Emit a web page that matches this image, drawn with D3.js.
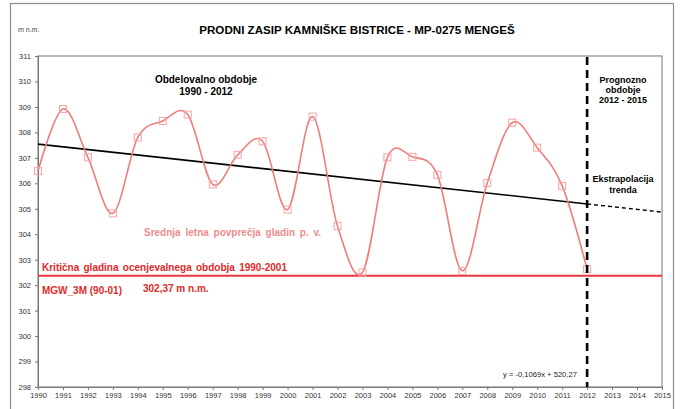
<!DOCTYPE html>
<meta charset="utf-8">
<head>
  <title>Prodni zasip Kamniške Bistrice</title>
  <style>
    body { margin: 0; background: #fff; }
    text { font-family: "Liberation Sans", Arial, sans-serif; }
  </style>
</head>
<body>
  <script src="https://d3js.org/d3.v7.min.js"></script>
  <div id="chart"></div>
  <script>
    // yearly averages of groundwater level (m n.m.)
    var years = [1990, 1991, 1992, 1993, 1994, 1995, 1996, 1997, 1998, 1999, 2000,
                 2001, 2002, 2003, 2004, 2005, 2006, 2007, 2008, 2009, 2010, 2011, 2012];
    var levels = [306.48, 308.92, 307.02, 304.82, 307.80, 308.45, 308.70, 305.96, 307.12, 307.65, 304.97,
                  308.62, 304.32, 302.50, 307.02, 307.04, 306.33, 302.56, 306.01, 308.38, 307.40, 305.90, 302.63];

    // trend line endpoints (fit period and extrapolation)
    var trendYears = [1990, 2012];
    var trendValues = [307.54, 305.19];
    var extraYears = [2012, 2015];
    var extraValues = [305.19, 304.87];

    var criticalLevel = 302.37;
    var forecastStart = 2012;

    var yTicks = [298, 299, 300, 301, 302, 303, 304, 305, 306, 307, 308, 309, 310, 311];
    var xTicks = d3.range(1990, 2016);

    var W = 684, H = 409;
    var margin = {top: 56, right: 22, bottom: 22, left: 38};
    var width = 662 - margin.left,
        height = 387 - margin.top;

    var svg = d3.select("#chart").append("svg")
      .attr("width", W)
      .attr("height", H);

    // outer chart frame
    svg.append("rect")
      .attr("x", 10.5).attr("y", 3.5)
      .attr("width", 663).attr("height", 420)
      .attr("fill", "none")
      .attr("stroke", "#8c8c8c")
      .attr("stroke-width", 1.2);

    var g = svg.append("g")
      .attr("transform", "translate(" + margin.left + "," + margin.top + ")");

    var x = d3.scaleLinear().domain([1990, 2015]).range([0, width]);
    var y = d3.scaleLinear().domain([298, 311]).range([height, 0]);

    // plot area border
    g.append("rect")
      .attr("x", 0).attr("y", 0)
      .attr("width", width).attr("height", height)
      .attr("fill", "none")
      .attr("stroke", "#777")
      .attr("stroke-width", 1);

    // axes
    var yAxis = g.append("g")
      .call(d3.axisLeft(y).tickValues(yTicks).tickSize(3).tickPadding(4).tickFormat(d3.format("d")));
    var xAxis = g.append("g")
      .attr("transform", "translate(0," + height + ")")
      .call(d3.axisBottom(x).tickValues(xTicks).tickSize(3).tickPadding(3).tickFormat(d3.format("d")));
    [xAxis, yAxis].forEach(function(a) {
      a.select(".domain").attr("stroke", "#777");
      a.selectAll(".tick line").attr("stroke", "#777");
      a.selectAll(".tick text")
        .attr("fill", "#333")
        .style("font-family", "'Liberation Sans', Arial, sans-serif")
        .style("font-size", "7.5px");
    });

    // critical level
    g.append("line")
      .attr("x1", x(1990)).attr("x2", x(2015))
      .attr("y1", y(criticalLevel)).attr("y2", y(criticalLevel))
      .attr("stroke", "#e8393c")
      .attr("stroke-width", 2.2);

    // trend
    var line = d3.line()
      .x(function(d) { return x(d[0]); })
      .y(function(d) { return y(d[1]); });

    g.append("path")
      .datum(d3.zip(trendYears, trendValues))
      .attr("d", line)
      .attr("fill", "none")
      .attr("stroke", "#000")
      .attr("stroke-width", 1.6);

    g.append("path")
      .datum(d3.zip(extraYears, extraValues))
      .attr("d", line)
      .attr("fill", "none")
      .attr("stroke", "#000")
      .attr("stroke-width", 1.4)
      .attr("stroke-dasharray", "4,3");

    // smoothed series
    var pts = d3.zip(years, levels);
    g.append("path")
      .datum(pts)
      .attr("d", line.curve(d3.curveCardinal.tension(0)))
      .attr("fill", "none")
      .attr("stroke", "#f07c7c")
      .attr("stroke-width", 1.6);

    g.selectAll("rect.marker")
      .data(pts)
      .enter().append("rect")
      .attr("class", "marker")
      .attr("x", function(d) { return x(d[0]) - 3.5; })
      .attr("y", function(d) { return y(d[1]) - 3.5; })
      .attr("width", 7).attr("height", 7)
      .attr("fill", "none")
      .attr("stroke", "#f4a4a4")
      .attr("stroke-width", 1);

    // forecast boundary
    g.append("line")
      .attr("x1", x(forecastStart)).attr("x2", x(forecastStart))
      .attr("y1", 1).attr("y2", height)
      .attr("stroke", "#000")
      .attr("stroke-width", 2.6)
      .attr("stroke-dasharray", "8,5");

    // texts
    svg.append("text")
      .attr("x", 357).attr("y", 34)
      .attr("text-anchor", "middle")
      .attr("font-weight", "bold")
      .attr("font-size", 11.6)
      .text("PRODNI ZASIP KAMNIŠKE BISTRICE - MP-0275 MENGEŠ");

    svg.append("text")
      .attr("x", 18).attr("y", 31.5)
      .attr("font-size", 7)
      .attr("fill", "#444")
      .text("m n.m.");

    function block(lines, cx, y0, dy, size, color) {
      lines.forEach(function(t, i) {
        svg.append("text")
          .attr("x", cx).attr("y", y0 + i * dy)
          .attr("text-anchor", "middle")
          .attr("font-weight", "bold")
          .attr("font-size", size)
          .attr("fill", color)
          .text(t);
      });
    }
    block(["Obdelovalno  obdobje", "1990 - 2012"], 206, 83, 12, 10, "#000");
    block(["Prognozno", "obdobje", "2012 - 2015"], 623, 83, 10, 9, "#000");
    block(["Ekstrapolacija", "trenda"], 623, 182, 11, 9, "#000");

    svg.append("text")
      .attr("x", 144).attr("y", 236)
      .attr("font-weight", "bold").attr("font-size", 10)
      .attr("fill", "#f08c8c")
      .attr("word-spacing", 2)
      .text("Srednja letna povprečja gladin p. v.");

    svg.append("text")
      .attr("x", 42).attr("y", 271)
      .attr("font-weight", "bold").attr("font-size", 10)
      .attr("fill", "#e02a2a")
      .attr("word-spacing", 1.5)
      .text("Kritična gladina ocenjevalnega obdobja 1990-2001");

    svg.append("text")
      .attr("x", 42).attr("y", 294)
      .attr("font-weight", "bold").attr("font-size", 10)
      .attr("fill", "#e02a2a")
      .text("MGW_3M (90-01)");

    svg.append("text")
      .attr("x", 143).attr("y", 292)
      .attr("font-weight", "bold").attr("font-size", 10)
      .attr("fill", "#e02a2a")
      .text("302,37 m n.m.");

    svg.append("text")
      .attr("x", 503).attr("y", 377)
      .attr("font-size", 7.6)
      .attr("fill", "#222")
      .text("y = -0,1069x  + 520,27");
  </script>
</body>
